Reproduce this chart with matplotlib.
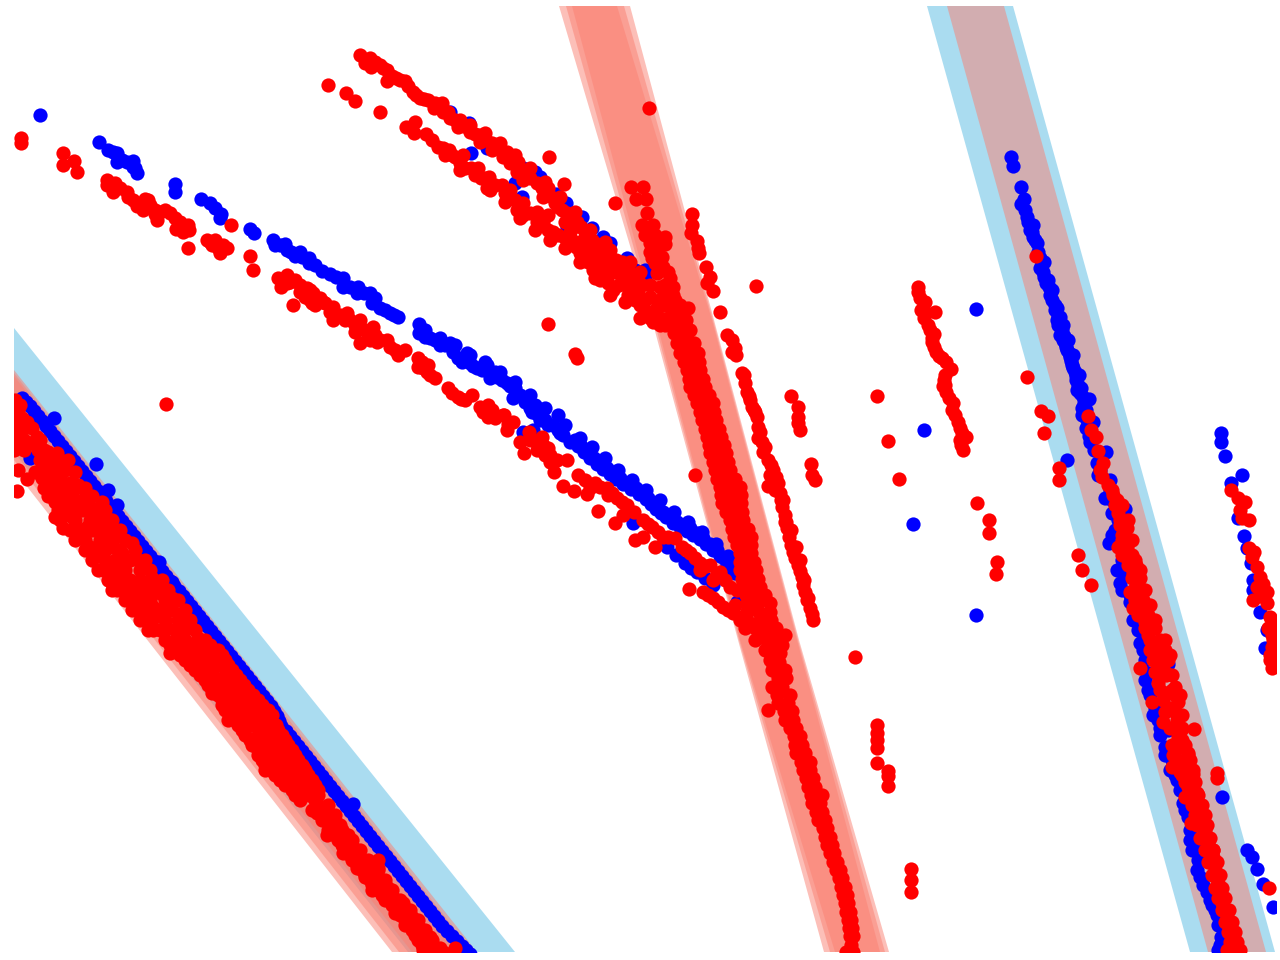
import matplotlib
matplotlib.use("Agg")

import matplotlib.pyplot as plt


# =====================================================
# BANDS
# =====================================================

# vertex heights shared by the edges of the centre band
center_y = [6, 320, 640, 952]
center_left = [[559, 652, 738, 824], [566, 654, 739, 830], [572, 656, 740, 835]]
center_right = [[630, 714, 799, 889], [624, 713, 798, 885], [617, 712, 797, 880]]

left_blue_band_x = [14, 515, 408, 14]
left_blue_band_y = [328, 952, 952, 452]
left_red_band_x = [[14, 477, 392, 14], [14, 473, 399, 14], [14, 469, 412, 14]]
left_red_band_y = [[370, 952, 952, 470], [373, 952, 952, 460], [376, 952, 952, 445]]

right_blue_band_x = [927, 1013, 1275, 1190]
right_red_band_x = [947, 1004, 1266, 1208]
right_band_y = [6, 6, 952, 952]


# =====================================================
# BLUE POINTS
# =====================================================

blue_left = [
    (22, 398), (30, 406), (38, 416), (46, 426), (54, 436), (62, 446), (70, 456), (78, 466),
    (86, 476), (94, 486), (102, 496), (110, 506), (118, 516), (126, 526), (134, 536),
    (142, 546), (150, 556), (158, 566), (166, 576), (174, 586), (183, 596), (191, 606),
    (199, 616), (207, 626), (215, 636), (223, 646), (231, 656), (239, 666), (247, 676),
    (255, 686), (263, 696), (271, 706), (277, 716), (281, 726), (290, 736), (298, 746),
    (306, 756), (314, 766), (322, 776), (330, 786), (338, 796), (346, 806), (354, 816),
    (362, 826), (370, 836), (378, 846), (386, 856), (394, 866), (402, 876), (410, 886),
    (418, 896), (426, 906), (434, 916), (442, 926), (452, 936), (462, 946), (470, 954),
    (54, 418), (96, 464), (108, 490), (117, 505), (159, 562), (172, 582), (353, 804),
    (30, 458),
]
blue_left_fill = [
    (26, 402), (34, 411), (42, 421), (50, 431), (58, 441), (66, 451), (74, 461), (82, 471),
    (90, 481), (98, 491), (106, 501), (114, 511), (122, 521), (130, 531), (138, 541),
    (146, 551), (154, 561), (162, 571), (170, 581), (179, 591), (187, 601), (195, 611),
    (203, 621), (211, 631), (219, 641), (227, 651), (235, 661), (243, 671), (251, 681),
    (259, 691), (267, 701), (274, 711), (279, 721), (286, 731), (294, 741), (302, 751),
    (310, 761), (318, 771), (326, 781), (334, 791), (342, 801), (350, 811), (358, 821),
    (366, 831), (374, 841), (382, 851), (390, 861), (398, 871), (406, 881), (414, 891),
    (422, 901), (430, 911), (438, 921), (447, 931), (457, 941), (466, 950),
]
blue_arc_low = [
    (40, 115), (99, 142), (108, 150), (117, 153), (117, 162), (127, 162), (133, 161),
    (135, 168), (137, 173), (175, 184), (175, 192), (201, 199), (210, 203), (221, 214),
    (220, 218), (250, 229), (254, 233), (273, 240), (275, 245), (285, 244), (287, 250),
    (295, 256), (302, 257), (309, 258), (309, 263), (322, 271), (330, 274), (343, 278),
    (343, 287), (358, 287), (357, 293), (370, 293), (372, 303), (380, 308), (390, 313),
    (398, 317), (419, 324), (419, 333), (425, 337), (435, 340), (440, 345), (450, 343),
    (453, 352), (462, 362), (467, 353), (470, 363), (477, 368), (487, 365), (490, 378),
    (497, 377), (507, 383), (515, 388), (513, 398), (525, 402), (535, 405), (532, 412),
    (542, 417), (558, 415), (548, 425), (563, 435), (570, 442), (523, 432), (533, 430),
    (537, 408), (540, 420), (560, 433), (575, 440), (581, 446), (587, 452), (594, 458),
    (600, 463), (607, 468), (613, 472), (620, 478), (628, 483), (636, 488), (643, 493),
    (648, 498), (653, 503), (658, 508), (663, 512), (670, 517), (677, 522), (684, 526),
    (690, 528), (697, 533), (703, 538), (710, 544), (717, 550), (724, 558), (730, 565),
    (735, 573), (667, 547), (685, 563), (697, 572), (713, 585), (737, 602), (633, 523),
]
blue_arc_fill = [
    (578, 446), (584, 452), (590, 458), (597, 464), (603, 469), (610, 474), (616, 479),
    (623, 484), (631, 489), (639, 494), (646, 499), (651, 504), (656, 509), (661, 513),
    (666, 517), (673, 523), (680, 527), (687, 531), (693, 535), (700, 539), (706, 544),
    (713, 550), (720, 556), (727, 564), (733, 570), (430, 338), (445, 345), (458, 358),
    (465, 358), (473, 366), (482, 370), (495, 372), (502, 380), (510, 386), (520, 395),
    (530, 408), (537, 414), (545, 420), (553, 425), (558, 430), (280, 245), (291, 252),
    (300, 252), (315, 265), (336, 277), (350, 287), (364, 293), (375, 298), (385, 310),
    (394, 315), (113, 152), (122, 160), (133, 167), (215, 208), (676, 555), (691, 568),
    (705, 578), (425, 330), (440, 338), (455, 345), (470, 355), (485, 362), (500, 372),
    (515, 382), (530, 395), (545, 408), (565, 425), (580, 438), (592, 447), (605, 458),
    (618, 470), (632, 480), (646, 490), (660, 500), (674, 512), (688, 522), (702, 532),
    (716, 544), (728, 556),
]
blue_arc_top = [
    (450, 112), (469, 123), (471, 153), (487, 148), (523, 168), (535, 172), (540, 177),
    (556, 194), (566, 203), (582, 217), (592, 228), (603, 237), (610, 243), (627, 258),
    (645, 278), (635, 270), (515, 183), (522, 197), (567, 227), (645, 270),
]
blue_right = [
    (1011, 157), (1013, 166), (1021, 187), (1024, 199), (1021, 204), (1025, 210), (1027, 217),
    (1033, 225), (1030, 230), (1033, 237), (1037, 243), (1038, 252), (1042, 263), (1043, 272),
    (1046, 283), (1052, 290), (1052, 300), (1055, 305), (1055, 310), (1058, 317), (1060, 317),
    (1062, 330), (1064, 336), (1065, 343), (1067, 350), (1070, 357), (1072, 365), (1075, 372),
    (1076, 380), (1077, 390), (1083, 397), (1089, 399), (1082, 408), (1082, 415), (1093, 422),
    (1090, 442), (1086, 428), (1106, 452), (1097, 463), (1098, 475), (1110, 480), (1105, 498),
    (1125, 509), (1112, 513), (1115, 530), (1109, 543), (1133, 560), (1117, 570), (1120, 583),
    (1122, 590), (1130, 602), (1133, 620), (1142, 642), (1140, 643), (1145, 660), (1168, 664),
    (1148, 673), (1150, 695), (1155, 708), (1160, 728), (1165, 747), (1177, 780), (1183, 803),
    (1188, 817), (1190, 830), (1198, 860), (1200, 877), (1207, 892), (1217, 915), (1221, 937),
    (1218, 950), (1172, 760), (1194, 845), (1212, 905), (1222, 925),
]
blue_right_fill = [
    (1028, 222), (1032, 232), (1035, 240), (1040, 258), (1040, 268), (1044, 277), (1049, 287),
    (1050, 295), (1057, 320), (1058, 325), (1060, 335), (1063, 340), (1066, 347), (1069, 353),
    (1071, 361), (1073, 368), (1076, 376), (1078, 385), (1080, 393), (1084, 403), (1086, 410),
    (1087, 420), (1089, 436), (1110, 490), (1112, 500), (1118, 520), (1112, 535), (1122, 560),
    (1125, 575), (1130, 595), (1135, 610), (1138, 630), (1143, 650), (1145, 680), (1148, 690),
    (1153, 715), (1158, 720), (1160, 735), (1165, 755), (1170, 770), (1175, 775), (1180, 790),
    (1185, 810), (1190, 840), (1192, 850), (1197, 870), (1203, 885), (1210, 900), (1215, 910),
    (1218, 925), (1220, 945), (1168, 730), (1178, 775), (1094, 450), (1100, 470), (1044, 262),
    (1048, 280), (1057, 308), (1063, 325), (1068, 340), (1073, 355), (1079, 375), (1081, 388),
]
blue_far_right = [
    (1221, 433), (1221, 442), (1225, 456), (1242, 475), (1231, 483), (1238, 518), (1244, 536),
    (1247, 548), (1251, 563), (1253, 580), (1253, 590), (1260, 612), (1267, 630), (1265, 648),
    (1222, 797), (1247, 850), (1252, 857), (1257, 869), (1263, 884), (1273, 907),
]
blue_single = [(976, 309), (924, 430), (913, 524), (976, 615), (1067, 460)]


# =====================================================
# RED POINTS
# =====================================================

red_left = [
    (15, 400), (18, 410), (27, 422), (37, 437), (18, 437), (17, 448), (30, 443), (18, 470),
    (35, 472), (27, 479), (17, 491), (48, 452), (57, 453), (63, 463), (75, 472), (50, 483),
    (60, 477), (70, 483), (78, 485), (55, 502), (85, 497), (102, 502), (68, 502), (55, 517),
    (63, 528), (78, 505), (90, 507), (72, 517), (80, 538), (90, 547), (87, 527), (103, 520),
    (112, 520), (100, 533), (117, 533), (98, 553), (113, 547), (132, 543), (103, 570),
    (115, 577), (122, 553), (138, 560), (123, 567), (117, 590), (127, 590), (140, 610),
    (152, 578), (140, 580), (160, 593), (172, 598), (153, 607), (163, 613), (153, 630),
    (182, 617), (187, 628), (167, 628), (198, 638), (177, 637), (125, 560), (110, 535),
    (133, 600), (147, 595), (170, 653), (205, 645), (195, 655), (215, 660), (205, 670),
    (225, 675), (215, 685), (235, 690), (212, 693), (250, 695), (230, 705), (245, 710),
    (228, 720), (260, 715), (245, 725), (255, 740), (270, 735), (265, 750), (280, 752),
    (265, 770), (275, 760), (282, 743), (290, 757), (303, 767), (283, 767), (290, 777),
    (295, 793), (308, 787), (313, 797), (323, 810), (317, 813), (333, 827), (327, 835),
    (347, 840), (343, 853), (355, 853), (357, 868), (370, 863), (378, 868), (365, 877),
    (387, 887), (372, 890), (395, 913), (403, 903), (412, 917), (420, 937), (430, 937),
    (423, 950), (437, 950), (453, 952), (443, 952), (385, 900), (405, 925),
]
red_left_fill = [
    (20, 405), (15, 418), (22, 418), (14, 428), (24, 428), (32, 428), (14, 440), (24, 440),
    (40, 440), (14, 450), (24, 450), (38, 450), (44, 450), (40, 460), (50, 460), (60, 460),
    (68, 460), (45, 470), (55, 470), (65, 470), (42, 478), (52, 478), (44, 488), (55, 488),
    (65, 488), (75, 488), (85, 488), (48, 496), (60, 496), (72, 496), (92, 496), (58, 510),
    (68, 510), (82, 510), (95, 510), (105, 510), (60, 520), (75, 520), (90, 520), (98, 520),
    (110, 520), (70, 530), (80, 530), (92, 530), (108, 530), (120, 530), (75, 540), (85, 540),
    (100, 540), (112, 540), (125, 540), (85, 550), (95, 550), (105, 550), (120, 550),
    (135, 550), (92, 560), (105, 560), (115, 560), (130, 560), (145, 560), (98, 570),
    (112, 570), (125, 570), (140, 570), (150, 570), (108, 580), (120, 580), (130, 580),
    (150, 580), (162, 580), (112, 590), (122, 590), (135, 590), (145, 590), (155, 590),
    (168, 590), (125, 600), (138, 600), (150, 600), (165, 600), (178, 600), (132, 610),
    (145, 610), (158, 610), (172, 610), (185, 610), (140, 620), (152, 620), (165, 620),
    (178, 620), (190, 620), (148, 630), (160, 630), (175, 630), (195, 630), (165, 640),
    (185, 640), (205, 640), (175, 650), (190, 650), (205, 650), (218, 650), (185, 660),
    (200, 660), (225, 660), (195, 670), (212, 670), (232, 670), (205, 680), (222, 680),
    (240, 680), (212, 690), (225, 690), (248, 690), (222, 700), (240, 700), (258, 700),
    (225, 710), (240, 710), (255, 710), (268, 710), (235, 720), (250, 720), (270, 720),
    (242, 730), (260, 730), (278, 730), (250, 740), (268, 740), (285, 740), (258, 750),
    (272, 750), (292, 750), (262, 760), (280, 760), (298, 760), (270, 770), (285, 770),
    (305, 770), (280, 780), (298, 780), (312, 780), (292, 790), (305, 790), (318, 790),
    (300, 800), (315, 800), (312, 810), (325, 810), (322, 820), (335, 820), (328, 830),
    (342, 830), (338, 840), (352, 840), (345, 850), (360, 850), (352, 860), (368, 860),
    (378, 860), (362, 870), (378, 870), (370, 880), (385, 880), (378, 890), (392, 890),
    (390, 900), (400, 900), (398, 910), (410, 910), (405, 920), (418, 920), (412, 930),
    (425, 930), (418, 940), (432, 940), (425, 948), (440, 948), (455, 948),
]
red_left_gaps = [
    (170, 645), (180, 645), (195, 645), (210, 645), (180, 655), (192, 655), (207, 655),
    (222, 655), (190, 665), (205, 665), (218, 665), (228, 665), (200, 675), (212, 675),
    (228, 675), (236, 675), (208, 685), (218, 685), (232, 685), (244, 685), (218, 695),
    (232, 695), (245, 695), (253, 695), (222, 705), (235, 705), (250, 705), (262, 705),
    (230, 715), (240, 715), (255, 715), (265, 715), (272, 715), (238, 725), (252, 725),
    (264, 725), (276, 725), (245, 735), (258, 735), (272, 735), (282, 735), (252, 745),
    (265, 745), (278, 745), (288, 745), (258, 755), (270, 755), (285, 755), (295, 755),
    (265, 765), (278, 765), (292, 765), (302, 765), (275, 775), (288, 775), (300, 775),
    (308, 775), (285, 785), (295, 785), (308, 785), (315, 785), (295, 795), (305, 795),
    (318, 795), (318, 805), (328, 805), (325, 815), (335, 815), (330, 825), (340, 825),
    (335, 835), (348, 835), (342, 845), (352, 845), (350, 855), (358, 855), (357, 865),
    (367, 865), (365, 875), (375, 875), (372, 885), (382, 885), (382, 895), (392, 895),
    (392, 905), (402, 905), (400, 915), (410, 915), (408, 925), (418, 925), (415, 935),
    (425, 935), (422, 945), (432, 945),
]
red_arc_low = [
    (21, 138), (21, 143), (63, 153), (63, 165), (74, 161), (77, 172), (107, 180), (107, 185),
    (115, 183), (113, 192), (127, 192), (128, 197), (137, 206), (145, 199), (148, 200),
    (143, 210), (155, 210), (165, 210), (157, 220), (175, 218), (176, 229), (188, 225),
    (189, 230), (188, 248), (207, 240), (215, 240), (212, 245), (223, 245), (220, 253),
    (227, 248), (231, 225), (250, 256), (253, 270), (278, 278), (287, 275), (295, 280),
    (281, 287), (287, 283), (293, 305), (307, 288), (305, 297), (315, 305), (313, 293),
    (312, 303), (323, 302), (333, 307), (333, 320), (347, 313), (345, 320), (360, 320),
    (355, 332), (373, 327), (368, 337), (360, 343), (370, 340), (377, 342), (387, 340),
    (390, 347), (398, 355), (405, 350), (418, 358), (428, 365), (418, 367), (427, 372),
    (435, 378), (448, 388), (458, 397), (465, 400), (472, 395), (480, 407), (488, 405),
    (488, 417), (503, 415), (507, 430), (513, 422), (504, 415), (529, 432), (520, 442),
    (542, 437), (524, 453), (537, 450), (548, 448), (567, 460), (550, 462), (554, 472),
    (533, 440), (557, 460), (543, 445), (578, 475), (585, 480), (563, 486), (574, 491),
    (587, 494), (595, 483), (607, 488), (617, 498), (627, 505), (598, 511), (615, 523),
    (623, 515), (628, 510), (643, 520), (652, 527), (635, 540), (643, 537), (655, 547),
    (663, 537), (675, 538), (682, 547), (690, 553), (700, 563), (710, 565), (720, 572),
    (700, 570), (713, 580), (730, 587), (737, 590), (689, 589), (703, 592), (713, 598),
    (723, 607), (733, 613), (740, 620), (748, 610), (608, 495),
]
red_arc_low_fill = [
    (110, 183), (120, 188), (133, 200), (140, 204), (150, 205), (160, 212), (170, 213),
    (155, 214), (180, 222), (183, 232), (210, 242), (218, 248), (283, 280), (290, 282),
    (300, 285), (310, 290), (300, 292), (320, 298), (310, 300), (325, 303), (330, 312),
    (340, 315), (350, 320), (355, 325), (365, 330), (375, 335), (380, 340), (395, 350),
    (422, 362), (423, 368), (430, 375), (452, 393), (461, 399), (483, 412), (492, 410),
    (495, 418), (508, 424), (530, 440), (540, 445), (545, 455), (550, 455), (590, 488),
    (600, 487), (612, 493), (622, 502), (634, 512), (648, 524), (658, 532), (668, 537),
    (686, 550), (695, 558), (706, 566), (716, 576), (725, 580), (708, 595), (718, 602),
    (728, 610),
]
red_arc_top = [
    (360, 55), (370, 58), (365, 63), (371, 67), (380, 65), (387, 70), (387, 81), (396, 78),
    (405, 81), (413, 92), (420, 98), (428, 100), (442, 103), (434, 108), (443, 112),
    (455, 120), (460, 120), (458, 127), (470, 132), (480, 135), (480, 142), (492, 143),
    (492, 150), (507, 152), (503, 157), (518, 162), (510, 163), (517, 172), (527, 173),
    (523, 180), (537, 183), (548, 188), (543, 197), (558, 207), (567, 213), (577, 222),
    (585, 232), (592, 240), (603, 248), (610, 257), (622, 262), (630, 273), (638, 280),
    (328, 85), (346, 93), (355, 101), (380, 112), (406, 127), (415, 122), (414, 133),
    (426, 134), (438, 147), (449, 150), (455, 157), (463, 155), (465, 168), (478, 168),
    (481, 178), (489, 177), (487, 188), (502, 185), (510, 190), (507, 197), (523, 203),
    (517, 210), (523, 215), (537, 212), (537, 222), (548, 215), (548, 230), (558, 235),
    (572, 240), (580, 253), (592, 253), (593, 270), (603, 277), (613, 290), (625, 283),
    (635, 300), (645, 313), (653, 322), (638, 287), (650, 297), (583, 240), (597, 247),
    (610, 270), (620, 273), (630, 288), (640, 297), (565, 222), (572, 228), (600, 262),
]
red_arc_top_fill = [
    (375, 62), (383, 68), (392, 76), (400, 80), (408, 86), (416, 95), (424, 99), (435, 103),
    (448, 112), (450, 118), (464, 126), (475, 134), (486, 140), (498, 148), (505, 155),
    (514, 163), (522, 172), (530, 178), (542, 188), (550, 196), (555, 203), (562, 210),
    (572, 218), (581, 227), (588, 236), (597, 244), (606, 252), (616, 260), (626, 268),
    (634, 276), (642, 285), (600, 250), (610, 262), (622, 272), (635, 290), (645, 300),
    (655, 310), (660, 300), (650, 285), (432, 140), (443, 148), (452, 155), (460, 163),
    (471, 168), (485, 178), (495, 185), (505, 193), (515, 200), (519, 206), (530, 213),
    (543, 222), (553, 232), (565, 238), (576, 247), (586, 253), (588, 262), (598, 270),
    (608, 283), (619, 285), (628, 295), (640, 305), (650, 318), (660, 325), (630, 280),
    (622, 280), (615, 272), (605, 268), (570, 232), (580, 245), (600, 280), (590, 250),
    (600, 255), (610, 250), (620, 265), (630, 262), (640, 272), (635, 278), (470, 125),
    (485, 133), (500, 143), (515, 155), (530, 168), (545, 182), (560, 197), (575, 212),
    (590, 230), (605, 242), (445, 155), (460, 170), (475, 175), (490, 190), (505, 202),
    (520, 218), (535, 230), (550, 240), (565, 248), (580, 262), (595, 278), (610, 295),
    (625, 302), (640, 318),
]
red_center_top = [
    (631, 187), (643, 187), (636, 199), (646, 199), (647, 213), (642, 225), (653, 225),
    (645, 235), (665, 237), (650, 243), (665, 244), (650, 252), (662, 257), (655, 263),
    (663, 267), (657, 273), (670, 278), (673, 287), (660, 287), (673, 295), (663, 297),
    (680, 305), (688, 308), (647, 312), (657, 308), (673, 312), (683, 315), (665, 305),
    (668, 318), (655, 250), (658, 262), (668, 272), (665, 285), (668, 292), (675, 300),
    (660, 305), (670, 303), (652, 315), (660, 318), (680, 312), (665, 325), (675, 328),
    (685, 325), (690, 330), (655, 235), (652, 258), (660, 245),
]
red_center_core = [
    (672, 320), (679, 320), (686, 320), (674, 333), (680, 333), (687, 333), (677, 343),
    (685, 343), (694, 343), (680, 353), (689, 353), (698, 353), (684, 362), (692, 362),
    (699, 362), (687, 370), (694, 370), (700, 370), (689, 379), (696, 379), (703, 379),
    (690, 387), (697, 387), (705, 387), (694, 395), (701, 395), (709, 395), (697, 403),
    (705, 403), (713, 403), (700, 412), (707, 412), (714, 412), (702, 420), (709, 420),
    (716, 420), (705, 429), (712, 429), (719, 429), (707, 437), (714, 437), (721, 437),
    (709, 445), (716, 445), (724, 445), (710, 453), (718, 453), (726, 453), (713, 462),
    (720, 462), (728, 462), (715, 470), (722, 470), (730, 470), (717, 479), (726, 479),
    (735, 479), (720, 487), (730, 487), (740, 487), (721, 495), (731, 495), (741, 495),
    (722, 503), (732, 503), (741, 503), (726, 512), (734, 512), (742, 512), (730, 520),
    (737, 520), (743, 520), (732, 529), (740, 529), (748, 529), (734, 537), (743, 537),
    (751, 537), (737, 545), (744, 545), (751, 545), (740, 553), (746, 553), (751, 553),
    (740, 562), (748, 562), (754, 562), (740, 570), (750, 570), (756, 570), (742, 579),
    (751, 579), (758, 579), (744, 587), (752, 587), (760, 587), (746, 595), (755, 595),
    (765, 595), (747, 603), (758, 603), (770, 603), (747, 612), (759, 612), (770, 612),
    (747, 620), (760, 620), (771, 620), (755, 628), (766, 628), (776, 628), (760, 637),
    (772, 637), (781, 637), (768, 645), (776, 645), (782, 645), (772, 653), (780, 653),
    (772, 662), (779, 662), (772, 670), (785, 670), (778, 678), (786, 678),
    (745, 615), (752, 625), (760, 630), (750, 600), (735, 605), (745, 628), (755, 640),
    (765, 650), (775, 640), (785, 635), (770, 660),
]
red_center_tail = [
    (772, 687), (782, 687), (777, 695), (790, 695), (778, 703), (788, 703), (784, 711),
    (792, 711), (785, 720), (793, 720), (790, 728), (796, 728), (794, 736), (800, 736),
    (795, 745), (802, 745), (796, 753), (805, 753), (801, 762), (810, 762), (803, 770),
    (810, 770), (806, 778), (813, 778), (808, 787), (815, 787), (811, 795), (822, 795),
    (812, 803), (820, 803), (816, 812), (822, 812), (818, 820), (825, 820), (823, 828),
    (827, 828), (825, 837), (830, 837), (827, 845), (832, 845), (830, 853), (834, 853),
    (833, 862), (837, 862), (836, 870), (840, 870), (839, 878), (842, 878), (841, 887),
    (845, 887), (843, 895), (847, 895), (845, 903), (848, 903), (846, 912), (850, 912),
    (848, 920), (851, 920), (849, 928), (852, 928), (850, 936), (853, 936), (846, 952),
    (851, 945), (853, 952),
]
red_parallel = [
    (692, 214), (692, 225), (691, 233), (697, 241), (698, 248), (699, 253), (706, 267),
    (710, 277), (707, 283), (713, 291), (720, 312), (727, 335), (732, 340), (735, 348),
    (732, 352), (736, 355), (742, 373), (745, 383), (747, 392), (752, 407), (757, 417),
    (758, 427), (758, 438), (765, 447), (768, 460), (773, 470), (768, 486), (778, 483),
    (780, 493), (782, 507), (785, 515), (787, 528), (789, 537), (793, 552), (798, 565),
    (802, 577), (805, 592), (810, 608), (813, 620), (791, 396), (798, 407), (798, 417),
    (798, 423), (800, 430), (811, 464), (812, 475), (815, 480), (744, 375), (750, 400),
    (755, 412), (762, 442), (771, 465), (776, 477), (783, 500), (786, 522), (791, 545),
    (795, 558), (800, 571), (803, 585), (807, 600), (749, 396), (754, 410), (760, 432),
    (763, 452), (770, 475), (775, 490), (781, 500), (785, 522), (791, 530), (796, 547),
    (800, 560), (804, 580), (808, 598), (812, 614),
]
red_string = [
    (918, 287), (918, 292), (925, 302), (921, 310), (935, 312), (924, 318), (928, 325),
    (934, 334), (932, 342), (936, 352), (942, 358), (951, 369), (944, 380), (946, 392),
    (953, 403), (955, 415), (960, 428), (966, 437), (960, 440), (963, 450), (943, 386),
    (949, 398), (920, 298), (923, 308), (930, 330), (932, 338), (934, 347), (939, 356),
    (946, 362), (945, 375), (945, 385), (952, 410), (958, 422), (962, 433), (961, 445),
]
red_right = [
    (1036, 256), (1088, 416), (1091, 430), (1096, 437), (1098, 451), (1103, 463), (1102, 477),
    (1112, 490), (1117, 500), (1118, 513), (1127, 528), (1118, 547), (1127, 547), (1128, 560),
    (1133, 573), (1138, 582), (1130, 592), (1140, 593), (1133, 608), (1143, 610), (1145, 622),
    (1153, 622), (1148, 635), (1157, 643), (1163, 650), (1153, 643), (1162, 653), (1160, 665),
    (1140, 668), (1158, 683), (1175, 687), (1167, 693), (1152, 702), (1163, 700), (1178, 702),
    (1170, 708), (1163, 722), (1177, 720), (1194, 729), (1178, 737), (1180, 747), (1188, 753),
    (1173, 755), (1172, 767), (1187, 763), (1193, 774), (1217, 773), (1217, 778), (1188, 787),
    (1185, 797), (1197, 793), (1198, 808), (1202, 817), (1191, 823), (1205, 830), (1208, 843),
    (1213, 857), (1215, 870), (1218, 883), (1222, 903), (1227, 917), (1232, 933), (1233, 948),
    (1227, 950), (1240, 950), (1120, 525), (1122, 535), (1125, 555), (1166, 675), (1210, 850),
    (1216, 877), (1220, 893), (1225, 910), (1229, 925), (1234, 940), (1182, 775), (1195, 800),
    (1200, 825), (1181, 730),
]
red_right_fill = [
    (1100, 470), (1108, 485), (1113, 495), (1115, 505), (1122, 505), (1120, 520), (1128, 520),
    (1122, 540), (1132, 540), (1122, 555), (1132, 555), (1128, 565), (1136, 565), (1132, 578),
    (1140, 578), (1135, 588), (1135, 600), (1143, 600), (1138, 615), (1148, 615), (1145, 628),
    (1155, 628), (1150, 640), (1160, 640), (1150, 650), (1165, 650), (1153, 660), (1168, 660),
    (1155, 672), (1165, 672), (1160, 690), (1172, 690), (1175, 695), (1165, 712), (1175, 712),
    (1170, 728), (1182, 728), (1172, 745), (1185, 745), (1178, 760), (1190, 760), (1180, 772),
    (1190, 772), (1185, 782), (1195, 782), (1192, 790), (1192, 805), (1202, 805), (1195, 815),
    (1205, 815), (1197, 825), (1207, 825), (1200, 838), (1210, 838), (1205, 850), (1213, 850),
    (1208, 862), (1217, 862), (1212, 875), (1220, 875), (1215, 888), (1222, 888), (1218, 898),
    (1225, 898), (1222, 910), (1229, 910), (1225, 922), (1232, 922), (1228, 932), (1235, 932),
    (1230, 942), (1237, 942), (1125, 540), (1135, 560), (1140, 570), (1145, 590), (1150, 605),
    (1155, 620), (1165, 640), (1170, 655), (1172, 675), (1180, 695), (1182, 715), (1182, 740),
    (1188, 755), (1193, 770), (1198, 795), (1206, 825), (1213, 850),
]
red_far_right = [
    (1231, 490), (1238, 498), (1245, 502), (1240, 510), (1242, 518), (1249, 520), (1249, 548),
    (1252, 557), (1257, 567), (1260, 577), (1257, 587), (1267, 592), (1253, 600), (1267, 603),
    (1270, 617), (1268, 628), (1273, 640), (1272, 647), (1270, 655), (1272, 668), (1269, 888),
    (1272, 625), (1272, 635), (1270, 660), (1272, 620), (1254, 552), (1263, 584), (1260, 596),
]
red_single = [
    (166, 404), (548, 324), (575, 354), (577, 358), (649, 108), (549, 157), (564, 184),
    (615, 203), (756, 286), (695, 475), (877, 396), (888, 441), (899, 479), (977, 503),
    (989, 520), (989, 533), (997, 562), (996, 574), (855, 657), (768, 710), (877, 725),
    (877, 733), (877, 740), (877, 748), (877, 763), (888, 771), (888, 776), (888, 786),
    (911, 869), (911, 880), (911, 892), (1027, 377), (1041, 411), (1048, 416), (1044, 433),
    (1059, 468), (1059, 480), (1078, 555), (1082, 570), (1091, 585),
]

blue_points = (
    blue_left + blue_left_fill + blue_arc_low + blue_arc_fill + blue_arc_top
    + blue_right + blue_right_fill + blue_far_right + blue_single
)
red_points = (
    red_left + red_left_fill + red_left_gaps + red_arc_low + red_arc_low_fill + red_arc_top
    + red_arc_top_fill + red_center_top + red_center_core + red_center_tail + red_parallel
    + red_string + red_right + red_right_fill + red_far_right + red_single
)


# =====================================================
# FIGURE
# =====================================================

fig = plt.figure(figsize=(12.8, 9.6), dpi=100)
ax = fig.add_axes([14 / 1280, 1 - 952 / 960, 1262 / 1280, 946 / 960])

ax.fill(left_blue_band_x, left_blue_band_y, color="skyblue", alpha=0.7, lw=0)
ax.fill(right_blue_band_x, right_band_y, color="skyblue", alpha=0.7, lw=0)

for band_x, band_y in zip(left_red_band_x, left_red_band_y):
    ax.fill(band_x, band_y, color="salmon", alpha=0.5, lw=0)

ax.fill(right_red_band_x, right_band_y, color="salmon", alpha=0.5, lw=0)

for left, right in zip(center_left, center_right):
    ax.fill(left + right[::-1], center_y + center_y[::-1], color="salmon", alpha=0.5, lw=0)

ax.scatter(
    [p[0] for p in blue_points],
    [p[1] for p in blue_points],
    s=105,
    color="blue",
    linewidths=0
)

ax.scatter(
    [p[0] for p in red_points],
    [p[1] for p in red_points],
    s=105,
    color="red",
    linewidths=0
)

ax.set_xlim(14, 1276)
ax.set_ylim(952, 6)
ax.axis("off")

plt.savefig("out.png", dpi=100)
plt.close()
